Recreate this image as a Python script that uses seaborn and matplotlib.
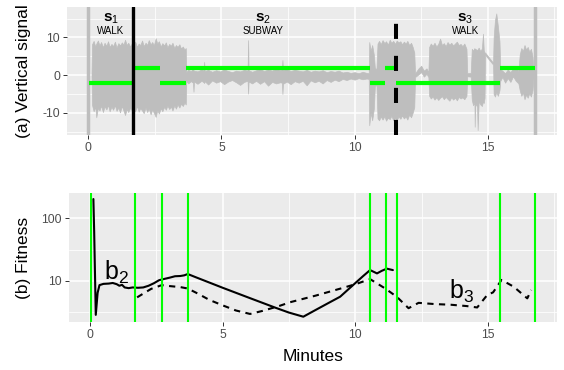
import numpy as np
import pandas as pd
import matplotlib
matplotlib.use("Agg")
import matplotlib.pyplot as plt
import seaborn as sns
from matplotlib.ticker import FixedLocator, NullFormatter

# ---- (a) raw vertical signal, envelope (minutes, hi, lo)
sig_t = [0.12, 0.14, 0.20, 0.26, 0.30, 0.36, 0.42, 0.48, 0.55, 0.61, 0.68, 0.74, 0.80, 0.87, 0.93,
         1.00, 1.06, 1.13, 1.19, 1.26, 1.32, 1.38, 1.44, 1.50, 1.57, 1.63, 1.70, 1.76, 1.83, 1.89,
         1.95, 2.02, 2.08, 2.15, 2.21, 2.27, 2.34, 2.40, 2.46, 2.53, 2.59, 2.65, 2.72, 2.78, 2.85,
         2.91, 2.97, 3.04, 3.10, 3.16, 3.23, 3.29, 3.35, 3.42, 3.48, 3.55, 3.61, 3.66, 3.68,
         3.75, 3.85, 3.93, 3.95, 3.97, 4.10, 4.25, 4.33, 4.35, 4.37, 4.50, 4.65, 4.80, 4.95, 5.10,
         5.25, 5.40, 5.55, 5.70, 5.85, 5.98, 6.00, 6.02, 6.15, 6.30, 6.45, 6.60, 6.75, 6.90, 7.05,
         7.20, 7.27, 7.29, 7.31, 7.45, 7.60, 7.75, 7.90, 8.05, 8.20, 8.35, 8.50, 8.65, 8.80, 8.95,
         9.10, 9.25, 9.40, 9.55, 9.70, 9.85, 10.00, 10.15, 10.30, 10.45, 10.53,
         10.55, 10.60, 10.66, 10.72, 10.76, 10.82, 10.86, 10.92, 10.98, 11.05, 11.12, 11.18, 11.25,
         11.32, 11.38, 11.45, 11.52, 11.58, 11.65, 11.72, 11.78, 11.85, 11.92, 11.98, 12.05, 12.12,
         12.18, 12.24, 12.27, 12.40, 12.50, 12.60, 12.70, 12.77,
         12.80, 12.86, 12.93, 13.00, 13.07, 13.14, 13.21, 13.28, 13.35, 13.42, 13.49, 13.56, 13.63,
         13.70, 13.77, 13.84, 13.91, 13.98, 14.05, 14.12, 14.20, 14.23, 14.36,
         14.40, 14.45, 14.50, 14.51, 14.53, 14.60, 14.62, 14.66, 14.72, 14.78, 14.82, 14.85, 14.88,
         14.90, 15.20, 15.22, 15.27, 15.32, 15.38, 15.44, 15.47,
         15.55, 15.65, 15.75, 15.85, 15.95, 16.05, 16.15,
         16.20, 16.26, 16.32, 16.38, 16.44, 16.50, 16.56, 16.62, 16.68, 16.72]
sig_hi = [0.0, 8.2, 9.1, 7.6, 8.4, 9.2, 7.9, 8.8, 7.4, 8.6, 7.8, 9.0, 7.5, 8.3, 7.7,
          8.9, 7.3, 8.5, 7.9, 8.7, 8.1, 9.4, 8.0, 8.6, 7.6, 8.4, 7.8, 8.9, 7.5, 8.4,
          8.0, 9.2, 7.7, 8.6, 8.0, 9.3, 8.2, 8.8, 7.9, 9.8, 8.4, 9.0, 7.6, 8.5, 7.9,
          8.7, 7.4, 8.3, 7.8, 8.6, 7.2, 8.0, 7.5, 8.2, 7.1, 7.6, 6.8, 7.2, 0.8,
          1.4, 1.1, 1.6, 1.3, 1.2, 1.0, 1.5, 1.2, 3.5, 1.1, 1.4, 0.9, 1.3, 1.0, 1.5,
          1.1, 0.8, 1.2, 1.0, 1.4, 1.2, 9.3, 1.3, 0.9, 1.3, 1.6, 1.1, 1.5, 1.2, 1.7,
          1.3, 1.5, 4.0, 1.4, 1.6, 1.1, 1.4, 1.2, 1.0, 1.4, 0.9, 1.2, 1.0, 1.3, 0.8,
          1.1, 0.9, 1.2, 0.7, 0.9, 0.6, 0.8, 0.5, 0.9, 0.6, 0.5,
          8.8, 6.5, 8.0, 5.5, 2.0, 1.5, 8.4, 9.1, 8.2, 9.3, 8.5, 9.0, 8.1,
          9.4, 8.6, 9.1, 8.3, 9.2, 8.7, 9.0, 8.2, 8.9, 8.4, 9.1, 8.0, 8.6,
          7.5, 6.0, 0.5, 1.8, 2.5, 1.2, 1.8, 0.8,
          7.5, 8.4, 7.8, 8.6, 7.6, 8.3, 9.7, 8.0, 8.5, 7.7, 8.8, 8.1, 8.6,
          7.9, 8.4, 8.9, 8.0, 8.3, 7.7, 8.4, 7.0, 0.5, 0.6,
          7.0, 6.5, 7.2, 6.8, 7.0, 6.6, 6.9, 7.3, 6.4, 7.1, 11.0, 6.6, 6.0,
          6.0, 3.3, 10.0, 14.6, 16.4, 13.0, 9.0, 1.5,
          1.2, 0.5, 1.5, 0.8, 1.8, 2.2, 1.0,
          5.5, 7.2, 6.4, 8.0, 6.8, 7.5, 6.2, 7.0, 5.0, 0.5]
sig_lo = [0.0, -7.9, -9.6, -8.4, -11.2, -8.7, -9.4, -8.1, -9.8, -8.3, -9.1, -7.9, -9.6, -8.4, -9.2,
          -8.0, -9.5, -8.6, -9.9, -8.2, -9.4, -10.6, -9.0, -9.8, -8.7, -9.3, -8.5, -9.6, -8.2, -9.7,
          -8.8, -9.4, -10.1, -8.6, -9.8, -8.9, -10.4, -9.1, -10.0, -11.1, -9.3, -10.2, -8.8, -9.6, -8.4,
          -9.2, -8.1, -9.0, -8.3, -9.4, -8.0, -8.9, -7.8, -8.6, -7.6, -8.2, -7.3, -7.8, -1.5,
          -2.2, -1.6, -2.0, -4.4, -1.7, -2.3, -1.5, -1.9, -2.1, -1.6, -2.5, -1.4, -2.0, -1.6, -2.4,
          -1.7, -1.3, -1.9, -2.6, -1.8, -1.5, -4.9, -1.7, -2.2, -1.5, -2.3, -1.6, -2.8, -1.8, -2.2,
          -1.9, -2.0, -5.0, -2.3, -1.7, -2.4, -1.6, -2.0, -1.5, -2.7, -1.4, -1.9, -1.5, -2.2, -1.3,
          -1.8, -1.2, -1.6, -1.0, -1.3, -0.9, -1.2, -0.8, -1.1, -0.9, -1.0,
          -13.3, -10.0, -12.0, -9.0, -3.0, -2.5, -11.5, -12.0, -11.0, -11.8, -10.9, -12.1, -11.3,
          -11.7, -10.8, -12.0, -11.4, -11.9, -11.0, -11.6, -10.7, -11.5, -11.0, -11.8, -10.5, -11.2,
          -10.0, -8.5, -0.5, 0.2, 0.8, -0.4, 0.3, -0.5,
          -5.5, -6.2, -5.7, -6.5, -5.9, -6.6, -6.0, -5.6, -6.4, -5.8, -6.3, -6.8, -5.9,
          -6.5, -6.0, -6.7, -5.8, -6.2, -5.9, -6.4, -5.5, -0.3, -0.4,
          -6.6, -8.0, -7.2, -13.7, -7.5, -8.4, -14.6, -6.9, -7.8, -8.2, -7.0, -7.4, -6.0,
          5.4, 2.8, -5.0, -5.7, -4.5, -5.5, -4.0, -1.5,
          -0.5, -2.0, -0.8, -1.8, -0.3, -1.5, -2.2,
          -4.0, -5.5, -4.6, -6.4, -5.2, -6.0, -4.8, -5.7, -4.0, -0.5]

# recording start / end markers
rec_marks = [0.0, 16.77]

# segmentation (green) and true boundaries (black)
seg_start = [0.04, 1.69, 2.69, 3.68, 10.56, 11.15, 11.56, 15.47]
seg_end = [1.69, 2.69, 3.68, 10.56, 11.15, 11.56, 15.47, 16.77]
seg_level = [-2, 2, -2, 2, -2, 2, -2, 2]
change_pts = [0.02, 1.69, 2.69, 3.68, 10.56, 11.15, 11.56, 15.47, 16.77]
true_walk_end = 1.69
true_subway_end = 11.56

state_x = [0.85, 6.57, 14.16]
state_sym = [r"$\mathbf{s}_1$", r"$\mathbf{s}_2$", r"$\mathbf{s}_3$"]
state_name = ["WALK", "SUBWAY", "WALK"]

# ---- (b) fitness curves
b2_t = [0.12, 0.15, 0.21, 0.28, 0.35, 0.50, 0.70, 0.85, 1.00, 1.10, 1.20, 1.30, 1.45, 1.60, 1.80,
        2.00, 2.20, 2.40, 2.60, 2.80, 3.00, 3.20, 3.40, 3.55, 3.68, 4.00, 5.00, 6.00, 7.00, 7.50,
        8.04, 8.50, 9.00, 9.43, 10.03, 10.30, 10.56, 10.82, 11.00, 11.19, 11.42]
b2_fit = [200, 60, 2.9, 6.5, 8.6, 9.0, 9.1, 9.3, 8.9, 8.4, 8.7, 7.9, 7.7, 7.9, 7.8,
          7.9, 8.4, 9.2, 10.3, 10.8, 11.3, 11.9, 12.0, 12.3, 12.9, 11.4, 7.8, 5.4, 3.75, 3.15,
          2.71, 3.46, 4.5, 5.63, 9.5, 12.0, 14.9, 13.2, 14.5, 15.7, 14.9]
b3_t = [1.77, 2.00, 2.30, 2.70, 3.00, 3.40, 3.68, 4.00, 4.50, 5.00, 5.50, 6.03, 6.50, 7.16, 7.54,
        8.50, 9.50, 10.03, 10.56, 10.85, 11.13, 11.57, 12.01, 12.39, 13.00, 13.60, 14.20, 14.60,
        14.98, 15.20, 15.52, 15.98, 16.49, 16.64]
b3_fit = [5.5, 6.3, 7.5, 8.6, 8.3, 8.0, 7.6, 6.5, 5.0, 4.1, 3.4, 3.0, 3.35, 4.05, 4.6,
          5.85, 7.7, 8.96, 10.7, 9.0, 7.6, 5.6, 3.7, 4.5, 4.3, 4.2, 4.0, 3.8,
          6.0, 6.6, 10.4, 8.1, 5.3, 7.2]

GRAY = "#BEBEBE"
GREEN = "#00FF00"
TXT = "#4D4D4D"

sns.set_theme(style="darkgrid")
plt.rcParams.update({
    "font.family": ["Liberation Sans", "DejaVu Sans"],
    "axes.facecolor": "#EBEBEB",
    "figure.facecolor": "white",
    "grid.color": "white",
    "mathtext.fontset": "custom",
    "mathtext.rm": "Liberation Sans",
    "mathtext.it": "Liberation Sans:italic",
    "mathtext.bf": "Liberation Sans:bold",
})

fig = plt.figure(figsize=(5.64, 3.70), dpi=100)
ax1 = fig.add_axes([67 / 564, 1 - 135 / 370, 490 / 564, 128 / 370])
ax2 = fig.add_axes([69 / 564, 1 - 322 / 370, 487.7 / 564, 129 / 370])


def style_axis(ax):
    for s in ax.spines.values():
        s.set_visible(False)
    ax.grid(True, which="major", color="white", lw=1.1)
    ax.grid(True, which="minor", color="white", lw=0.55)
    ax.tick_params(which="major", bottom=True, left=True, length=2.75, width=0.7,
                   color="#333333", labelcolor=TXT, labelsize=8.8, pad=2.2)
    ax.tick_params(which="minor", length=0)
    ax.set_axisbelow(True)


# ---- top panel
ax1.fill_between(sig_t, sig_lo, sig_hi, color=GRAY, lw=0.5, zorder=2)
for x in rec_marks:
    ax1.axvline(x, color=GRAY, lw=2.5, zorder=2)
ax1.hlines(seg_level, seg_start, seg_end, color=GREEN, lw=3, zorder=3)
ax1.axvline(true_walk_end, color="black", lw=2.4, zorder=4)
ax1.axvline(true_subway_end, color="black", lw=2.9, linestyle=(0, (3.75, 4.2)), zorder=4)
for x, sym, name in zip(state_x, state_sym, state_name):
    ax1.text(x, 15.0, sym, ha="center", va="center", fontsize=11, color="black")
    ax1.text(x, 11.75, name, ha="center", va="center", fontsize=7, color="black")

ax1.set_xlim(-0.8, 17.6)
ax1.set_ylim(-15.9, 18.1)
ax1.set_xticks([0, 5, 10, 15], labels=["0", "5", "10", "15"])
ax1.set_yticks([-10, 0, 10], labels=["-10", "0", "10"])
ax1.xaxis.set_minor_locator(FixedLocator([2.5, 7.5, 12.5, 17.5]))
ax1.yaxis.set_minor_locator(FixedLocator([-15, -5, 5, 15]))
style_axis(ax1)

# ---- bottom panel
df_b2 = pd.DataFrame({"Minutes": b2_t, "Fitness": b2_fit})
df_b3 = pd.DataFrame({"Minutes": b3_t, "Fitness": b3_fit})
sns.lineplot(data=df_b2, x="Minutes", y="Fitness", ax=ax2, color="black", lw=1.5, sort=False, zorder=3)
sns.lineplot(data=df_b3, x="Minutes", y="Fitness", ax=ax2, color="black", lw=1.5, sort=False,
             linestyle=(0, (3, 2.6)), zorder=3)
for x in change_pts:
    ax2.axvline(x, color=GREEN, lw=1.5, zorder=4)
ax2.text(1.01, 13.9, r"b$_2$", ha="center", va="center", fontsize=18, color="black")
ax2.text(14.0, 6.94, r"b$_3$", ha="center", va="center", fontsize=18, color="black")

ax2.set_yscale("log")
ax2.set_xlim(-0.8, 17.6)
ax2.set_ylim(10 ** 0.349, 10 ** 2.397)
ax2.set_xticks([0, 5, 10, 15], labels=["0", "5", "10", "15"])
ax2.set_yticks([10, 100], labels=["10", "100"])
ax2.yaxis.set_minor_locator(FixedLocator([10 ** 0.5, 10 ** 1.5]))
ax2.yaxis.set_minor_formatter(NullFormatter())
ax2.xaxis.set_minor_locator(FixedLocator([2.5, 7.5, 12.5, 17.5]))
ax2.set_xlabel("")
ax2.set_ylabel("")
style_axis(ax2)

fig.text(24 / 564, 1 - 71 / 370, "(a) Vertical signal", rotation=90, ha="center", va="center",
         fontsize=12.5, color="black")
fig.text(23.5 / 564, 1 - 257.5 / 370, "(b) Fitness", rotation=90, ha="center", va="center",
         fontsize=12.5, color="black")
fig.text(312.8 / 564, 1 - 356.7 / 370, "Minutes", ha="center", va="center",
         fontsize=12.5, color="black")

fig.savefig("out.png", dpi=100)
